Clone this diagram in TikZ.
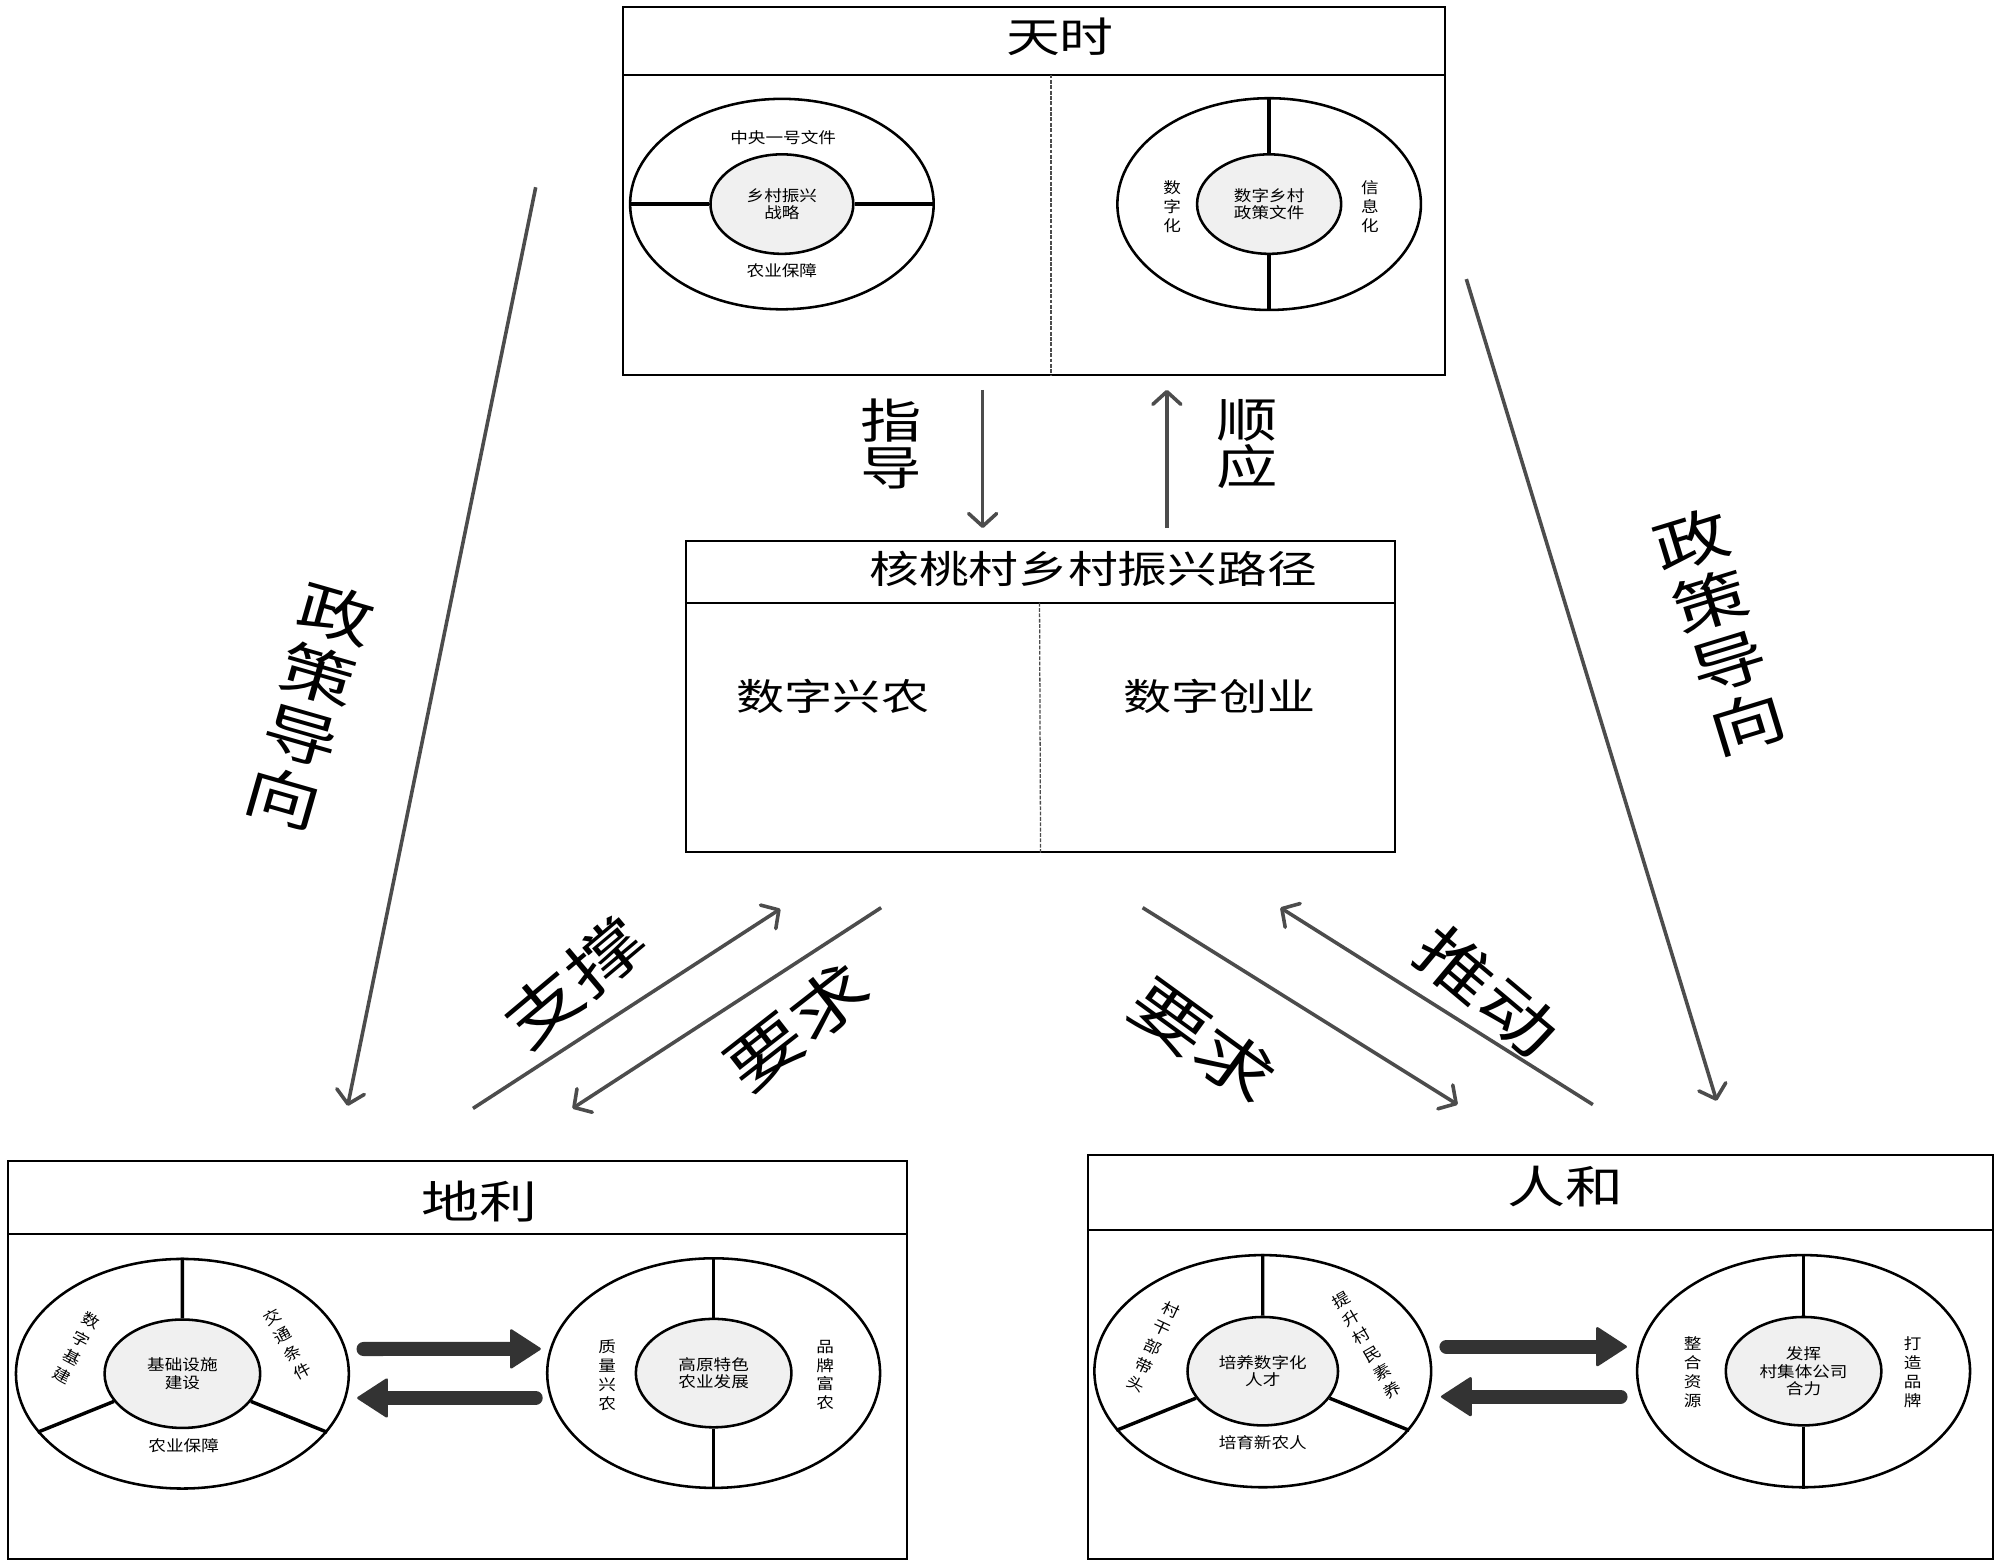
\documentclass[tikz,border=0pt]{standalone}
\usepackage{fontspec}
\newfontfamily\cjk[FakeStretch=1.3]{Noto Sans CJK SC}
\newfontfamily\cjks[FakeStretch=1.15]{Noto Sans CJK SC}
\usetikzlibrary{arrows.meta,shapes.geometric}
\tikzset{
  frame/.style={draw=black, line width=1.6pt, inner sep=0pt, anchor=north west},
  hdr/.style={draw=black, line width=1.5pt},
  dashdiv/.style={draw=black!70, line width=1pt, dash pattern=on 3pt off 1.2pt},
  outerell/.style={ellipse, draw=black, line width=2pt, inner sep=0pt},
  innerell/.style={ellipse, draw=black, line width=2pt, fill=gray!12, inner sep=0pt, align=center, font=\cjks\fontsize{12}{13.5}\selectfont},
  divline/.style={draw=black, line width=2.7pt},
  small/.style={font=\cjks\fontsize{12}{13.5}\selectfont, align=center, inner sep=0pt},
  vsmall/.style={font=\cjks\fontsize{12}{14.8}\selectfont, align=center, inner sep=0pt},
  vrsmall/.style={font=\cjks\fontsize{12}{16.2}\selectfont, align=center, inner sep=0pt},
  garrow/.style={draw=black!70, line width=2.8pt, -{Straight Barb[length=10pt,width=22pt,round]}},
  tarrow/.style={draw=black!80, line width=11pt, line cap=round, -{Triangle[length=25pt,width=32pt,line width=2pt,round]}},
  titleA/.style={font=\cjk\fontsize{32.5}{32.5}\selectfont, inner sep=0pt},
  titleB/.style={font=\cjk\fontsize{35}{35}\selectfont, inner sep=0pt},
  midtitle/.style={font=\cjk\fontsize{30}{30}\selectfont, inner sep=0pt},
  midfont/.style={font=\cjk\fontsize{29}{29}\selectfont, inner sep=0pt},
  vbig/.style={font=\cjk\fontsize{37}{37}\selectfont, align=center, inner sep=0pt},
  vhuge/.style={font=\cjk\fontsize{46}{50}\selectfont, align=center, inner sep=0pt},
  diaglabel/.style={font=\cjk\fontsize{49}{49}\selectfont, inner sep=0pt}
}
\begin{document}
\begin{tikzpicture}[x=1pt,y=-1pt]
\useasboundingbox (0,0) rectangle (1568,1226);
\fill[white] (0,0) rectangle (1568,1226);

% ===== 天时 =====
\node[frame, minimum width=644pt, minimum height=288pt] (ts) at (488,5) {};
\draw[hdr] ([yshift=-53.5pt]ts.north west) -- ([yshift=-53.5pt]ts.north east);
\draw[dashdiv] ([xshift=336pt,yshift=-53.5pt]ts.north west) -- ([xshift=336pt]ts.south west);
\node[titleA] (tst) at (831,28.5) {天时};

\node[outerell, minimum width=238pt, minimum height=165pt] (a1) at (613,160) {};
\node[innerell, minimum width=112pt, minimum height=78pt] (a1i) at (613,160) {乡村振兴\\战略};
\draw[divline] (a1.west) -- (a1i.west) (a1i.east) -- (a1.east);
\node[small] (a1t) at (614,108) {中央一号文件};
\node[small] (a1b) at (613,212) {农业保障};

\node[outerell, minimum width=238pt, minimum height=166pt] (a2) at (995,160) {};
\node[innerell, minimum width=113pt, minimum height=78pt] (a2i) at (995,160) {数字乡村\\政策文件};
\draw[divline] (a2.north) -- (a2i.north) (a2i.south) -- (a2.south);
\node[vsmall] (a2l) at (919,162) {数\\字\\化};
\node[vsmall] (a2r) at (1074,162) {信\\息\\化};

% ===== middle box =====
\node[frame, minimum width=556pt, minimum height=244pt] (mid) at (537,423) {};
\draw[hdr] ([yshift=-49.5pt]mid.north west) -- ([yshift=-49.5pt]mid.north east);
\draw[dashdiv] ([xshift=278pt,yshift=-49.5pt]mid.north west) -- (mid.south);
\node[midtitle] (midt) at (857,446) {核桃村乡村振兴路径};
\node[midfont] (m1) at (653,546) {数字兴农};
\node[midfont] (m2) at (956,546) {数字创业};

% vertical arrows
\draw[garrow] ([shift={(-40.4,11)}]ts.south) -- ([shift={(-45.4,-9)}]mid.north);
\draw[garrow] ([shift={(99,-9)}]mid.north) -- ([shift={(104,11)}]ts.south);
\node[vbig] (zd) at (699,348) {指\\导};
\node[vbig] (sy) at (978,348) {顺\\应};

% ===== 地利 =====
\node[frame, minimum width=704.5pt, minimum height=312pt] (dl) at (5.5,909.5) {};
\draw[hdr] ([yshift=-58pt]dl.north west) -- ([yshift=-58pt]dl.north east);
\node[titleB] (dlt) at (376,942) {地利};

\node[outerell, minimum width=261pt, minimum height=180pt] (b1) at (143,1077) {};
\node[innerell, minimum width=122pt, minimum height=85pt] (b1i) at (143,1077) {基础设施\\建设};
\draw[divline] (b1.north) -- (b1i.north) (b1i.202) -- (b1.202) (b1i.338) -- (b1.338);
\node[vrsmall, rotate=-28] (b1l) at (60,1057) {数\\字\\基\\建};
\node[vrsmall, rotate=29] (b1r) at (225,1054) {交\\通\\条\\件};
\node[small] (b1b) at (144,1133) {农业保障};

\node[outerell, minimum width=261pt, minimum height=180pt] (b2) at (559.5,1076.5) {};
\node[innerell, minimum width=122pt, minimum height=85pt] (b2i) at (559.5,1076.5) {高原特色\\农业发展};
\draw[divline] (b2.north) -- (b2i.north) (b2i.south) -- (b2.south);
\node[vsmall] (b2l) at (476,1078) {质\\量\\兴\\农};
\node[vsmall] (b2r) at (647,1078) {品\\牌\\富\\农};

\draw[tarrow] ([shift={(10.5,-19.4)}]b1.east) -- ([shift={(-4,-19)}]b2.west);
\draw[tarrow] ([shift={(-8,19.5)}]b2.west) -- ([shift={(5.5,19)}]b1.east);

% ===== 人和 =====
\node[frame, minimum width=710pt, minimum height=317pt] (rh) at (852,904.7) {};
\draw[hdr] ([yshift=-59.6pt]rh.north west) -- ([yshift=-59.6pt]rh.north east);
\node[titleB] (rht) at (1227,930.5) {人和};

\node[outerell, minimum width=264pt, minimum height=182pt] (c1) at (990,1075) {};
\node[innerell, minimum width=118pt, minimum height=85pt] (c1i) at (990,1075) {培养数字化\\人才};
\draw[divline] (c1.north) -- (c1i.north) (c1i.202) -- (c1.202) (c1i.338) -- (c1.338);
\node[vrsmall, rotate=-25] (c1l) at (904,1056) {村\\干\\部\\带\\头};
\node[vrsmall, rotate=30] (c1r) at (1071.5,1054.5) {提\\升\\村\\民\\素\\养};
\node[small] (c1b) at (990,1131) {培育新农人};

\node[outerell, minimum width=261pt, minimum height=182pt] (c2) at (1414,1075) {};
\node[innerell, minimum width=122pt, minimum height=85pt] (c2i) at (1414,1075) {发挥\\村集体公司\\合力};
\draw[divline] (c2.north) -- (c2i.north) (c2i.south) -- (c2.south);
\node[vsmall] (c2l) at (1327,1076) {整\\合\\资\\源};
\node[vsmall] (c2r) at (1499.5,1076) {打\\造\\品\\牌};

\draw[tarrow] ([shift={(11,-19.2)}]c1.east) -- ([shift={(-7,-19.2)}]c2.west);
\draw[tarrow] ([shift={(-12,20)}]c2.west) -- ([shift={(6.7,20)}]c1.east);

% ===== long arrows 政策导向 =====
\draw[garrow] ([shift={(-68,-3)}]ts.west) -- ([shift={(-86,-42.5)}]dl.north);
\draw[garrow] ([shift={(16,69)}]ts.east) -- ([shift={(138,-41.7)}]rh.north);
\node[vhuge, rotate=-16] (zc1) at (243,553) {政\\策\\导\\向};
\node[vhuge, rotate=17] (zc2) at (1348,495) {政\\策\\导\\向};

% ===== diagonal arrows =====
\draw[garrow] ([shift={(12.25,-40.5)}]dl.north) -- ([shift={(-204,44)}]mid.south);
\draw[garrow] ([shift={(-125,43)}]mid.south) -- ([shift={(90.25,-40.5)}]dl.north);
\draw[garrow] ([shift={(80,43)}]mid.south) -- ([shift={(-65,-38.7)}]rh.north);
\draw[garrow] ([shift={(41,-38.7)}]rh.north) -- ([shift={(188,43)}]mid.south);
\node[diaglabel, rotate=40] (zc) at (450,770) {支撑};
\node[diaglabel, rotate=38] (yq1) at (625,805) {要求};
\node[diaglabel, rotate=-36] (yq2) at (943,816) {要求};
\node[diaglabel, rotate=-40] (td) at (1166,777) {推动};
\end{tikzpicture}
\end{document}
